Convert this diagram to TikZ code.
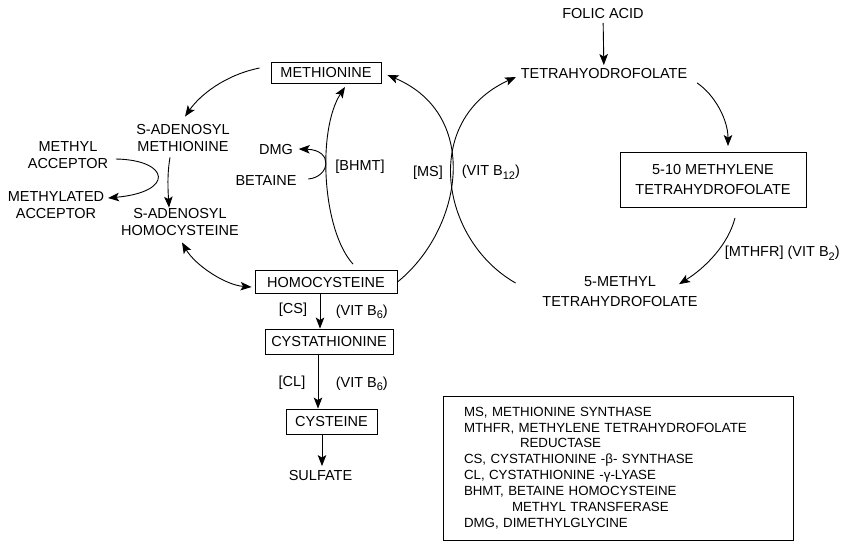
\documentclass[tikz,border=0pt]{standalone}
\usepackage{fontspec}
\setmainfont{Liberation Sans}
\usetikzlibrary{calc,arrows.meta}

\newcommand{\vitsub}[1]{\raisebox{-3.5pt}{\fontsize{11}{11}\selectfont #1}}

\tikzset{
  lbl/.style={font=\fontsize{14.5}{17}\selectfont, align=center},
  box/.style={draw, inner sep=0pt},
}

\begin{document}
\begin{tikzpicture}[x=1pt,y=-1pt,line width=0.9pt,
  >={Stealth[length=11pt,width=8.5pt,inset=2.5pt]}, every node/.style={lbl}]
  \useasboundingbox (0,0) rectangle (854,542);
  % folate side
  \node (folic) at (603,14) {FOLIC ACID};
  \node (thf) at (604,74) {TETRAHYODROFOLATE};
  \node[box, minimum width=186pt, minimum height=55pt] (mthf) at (713,180) {5-10 METHYLENE\\[3pt]TETRAHYDROFOLATE};
  \node (mmthf) at (620,292) {5-METHYL\\[3pt]TETRAHYDROFOLATE};
  % methionine cycle
  \node[box, minimum width=110pt, minimum height=21pt] (meth) at (326,73) {METHIONINE};
  \node[box, minimum width=142pt, minimum height=23pt] (homo) at (326,282) {HOMOCYSTEINE};
  \node (sam) at (183,138) {S-ADENOSYL\\METHIONINE};
  \node (sah) at (180,222) {S-ADENOSYL\\HOMOCYSTEINE};
  \node (macc) at (68,155) {METHYL\\ACCEPTOR};
  \node (mdacc) at (56,205) {METHYLATED\\ACCEPTOR};
  \node (dmg) at (276,150) {DMG};
  \node (bet) at (266,181) {BETAINE};
  % transsulfuration
  \node[box, minimum width=128pt, minimum height=25pt] (cysta) at (329,341.5) {CYSTATHIONINE};
  \node[box, minimum width=91pt, minimum height=25pt] (cyst) at (331.5,421.5) {CYSTEINE};
  \node (sulf) at (320.5,475) {SULFATE};

  \draw[->] (folic) -- (thf);
  \draw[->] ($(thf.south east)+(6,0)$) .. controls (715,95) and (728,120) .. ($(mthf.north)+(15,-6)$);
  \draw[->] ($(mthf.south)+(22,10)$) .. controls (728,245) and (705,268) .. ($(mmthf.north)+(59,11)$);
  \node[anchor=west] (mthfrl) at (721,253) {[MTHFR] (VIT B\vitsub{2})};

  \draw[->] (homo.east) .. controls (462,230) and (482,115) .. ($(meth.east)+(6,2)$);
  \draw[->] ($(mmthf.west)+(-23,-9)$) .. controls (440,240) and (421,120) .. ($(thf.west)+(-1,3)$);
  \node (msl) at (428,173) {[MS]};
  \node[anchor=west] (b12) at (458,172) {(VIT B\vitsub{12})};

  \draw[->] ($(homo.north)+(27,-6)$) .. controls (322,230) and (317,130) .. ($(meth.south)+(19,3)$);
  \node (bhmtl) at (360,167) {[BHMT]};
  \draw[->] ($(bet.east)+(8,-2)$) .. controls (330,177) and (334,150) .. ($(dmg.east)+(2,-1)$);

  \draw[->] ($(meth.west)+(-11,-5)$) .. controls (225,75) and (200,95) .. ($(sam.north)+(2,-4)$);
  \draw[->] ($(sam.south)+(-13,2)$) .. controls (167,175) and (168,190) .. ($(sah.north)+(-11,3)$);
  \draw[->] ($(macc.east)+(4,4)$) .. controls (170,160) and (175,192) .. ($(mdacc.east)+(0,-7)$);
  \draw[<->] ($(sah.south)+(2,3)$) .. controls (195,265) and (225,285) .. ($(homo.west)+(-3,5)$);

  \draw[->] ($(homo.south)+(-6,0)$) -- ($(cysta.north)+(-9,0)$);
  \node (csl) at (293,310) {[CS]};
  \node[anchor=west] (b6a) at (332,312) {(VIT B\vitsub{6})};
  \draw[->] ($(cysta.south)+(-11,0)$) -- ($(cyst.north)+(-13.5,0)$);
  \node (cll) at (292,383) {[CL]};
  \node[anchor=west] (b6b) at (332,384) {(VIT B\vitsub{6})};
  \draw[->] ($(cyst.south)+(-9.5,0)$) -- ($(sulf.north)+(1.5,0)$);

  % key
  \node[draw, minimum width=350pt, minimum height=144pt, text width=308pt, inner xsep=21pt,
    align=left, font=\fontsize{13.3}{15.9}\selectfont] (legend) at (618,468)
    {MS, METHIONINE SYNTHASE\\
     MTHFR, METHYLENE TETRAHYDROFOLATE\\
     \hspace*{56pt}REDUCTASE\\
     CS, CYSTATHIONINE -β- SYNTHASE\\
     CL, CYSTATHIONINE -γ-LYASE\\
     BHMT, BETAINE HOMOCYSTEINE\\
     \hspace*{48pt}METHYL TRANSFERASE\\
     DMG, DIMETHYLGLYCINE};
\end{tikzpicture}
\end{document}
